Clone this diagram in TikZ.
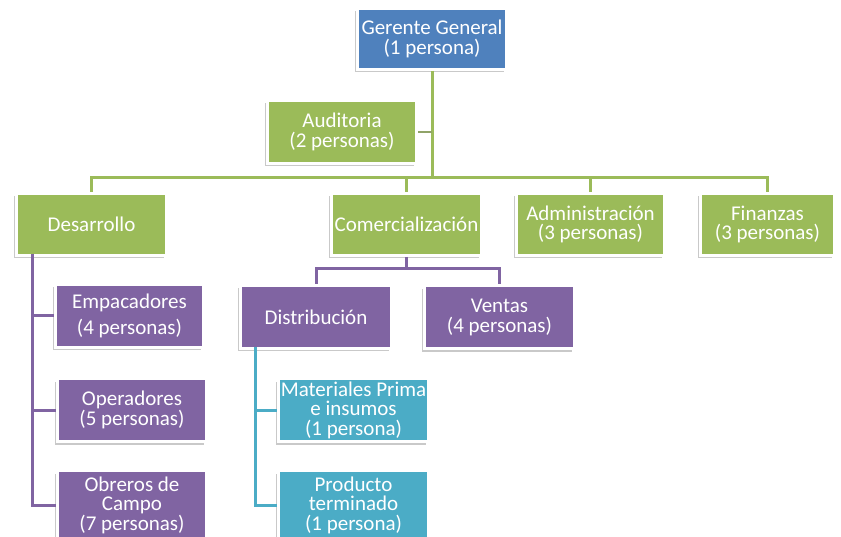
\documentclass[tikz,border=0pt]{standalone}
\usepackage{fontspec}
\setmainfont{Carlito}
\usetikzlibrary{shadows}
\definecolor{cblue}{HTML}{4F81BD}
\definecolor{cgreen}{HTML}{9BBB59}
\definecolor{cpurple}{HTML}{8064A2}
\definecolor{ccyan}{HTML}{4BACC6}
\tikzset{
  box/.style={draw=white, line width=3pt, inner sep=0pt, align=center,
    text=white, font=\fontsize{21}{19.5}\selectfont,
    drop shadow={shadow xshift=-2.5pt, shadow yshift=-3pt, fill=black!35, opacity=0.6}},
  bbox/.style={box, fill=cblue},
  gbox/.style={box, fill=cgreen},
  pbox/.style={box, fill=cpurple},
  cbox/.style={box, fill=ccyan},
  gline/.style={draw=cgreen, line width=3pt},
  pline/.style={draw=cpurple, line width=3pt},
  cline/.style={draw=ccyan, line width=3pt},
}
\begin{document}
\begin{tikzpicture}[x=1pt,y=-1pt]
\fill[white] (0,0) rectangle (841,537);
\useasboundingbox (0,0) rectangle (841,537);
\begin{scope}
\clip (0,0) rectangle (841,537);
\coordinate (hub) at (432,178);
\coordinate (dtop) at (32,254);
\coordinate (cj) at (406.5,269);
\coordinate (stop) at (255,347);
\coordinate (aj) at (432,132);

\node[bbox, minimum width=149pt, minimum height=61pt] (gg) at (432,39) {Gerente General\\(1 persona)};
\node[gbox, minimum width=149pt, minimum height=63pt] (aud) at (342,132) {Auditoria\\(2 personas)};
\node[gbox, minimum width=150pt, minimum height=62pt] (des) at (91.5,224.5) {Desarrollo};
\node[gbox, minimum width=150pt, minimum height=62pt] (com) at (406.5,224.5) {Comercialización};
\node[gbox, minimum width=148pt, minimum height=62pt] (adm) at (590.5,224.5) {Administración\\(3 personas)};
\node[gbox, minimum width=134pt, minimum height=62pt] (fin) at (767.5,224.5) {Finanzas\\(3 personas)};
\node[pbox, minimum width=148pt, minimum height=63pt] (emp) at (129.5,316) {Empacadores\\[7pt](4 personas)};
\node[pbox, minimum width=149pt, minimum height=63pt] (ope) at (132,410) {Operadores\\(5 personas)};
\node[pbox, minimum width=149pt, minimum height=69pt] (obr) at (132,505) {Obreros de\\Campo\\(7 personas)};
\node[pbox, minimum width=151pt, minimum height=63pt] (dis) at (316,317) {Distribución};
\node[pbox, minimum width=150pt, minimum height=63pt] (ven) at (499.5,317.5) {Ventas\\(4 personas)};
\node[cbox, minimum width=150pt, minimum height=63pt] (mat) at (353.5,410) {Materiales Prima\\e insumos\\(1 persona)};
\node[cbox, minimum width=150pt, minimum height=69pt] (pro) at (353.5,505) {Producto\\terminado\\(1 persona)};

\draw[gline] (gg.south) -- (hub);
\draw[draw=cgreen!60!gray, line width=2pt] (aud.east) -- (aj);
\draw[gline] (hub) -| (des.north);
\draw[gline] (hub) -| (com.north);
\draw[gline] (hub) -| (adm.north);
\draw[gline] (hub) -| (fin.north);
\draw[pline] (dtop) |- (emp.west);
\draw[pline] (dtop) |- (ope.west);
\draw[pline] (dtop) |- (obr.west);
\draw[pline] (com.south) -- (cj);
\draw[pline] (cj) -| (dis.north);
\draw[pline] (cj) -| (ven.north);
\draw[cline] (stop) |- (mat.west);
\draw[cline] (stop) |- (pro.west);
\end{scope}
\end{tikzpicture}
\end{document}
